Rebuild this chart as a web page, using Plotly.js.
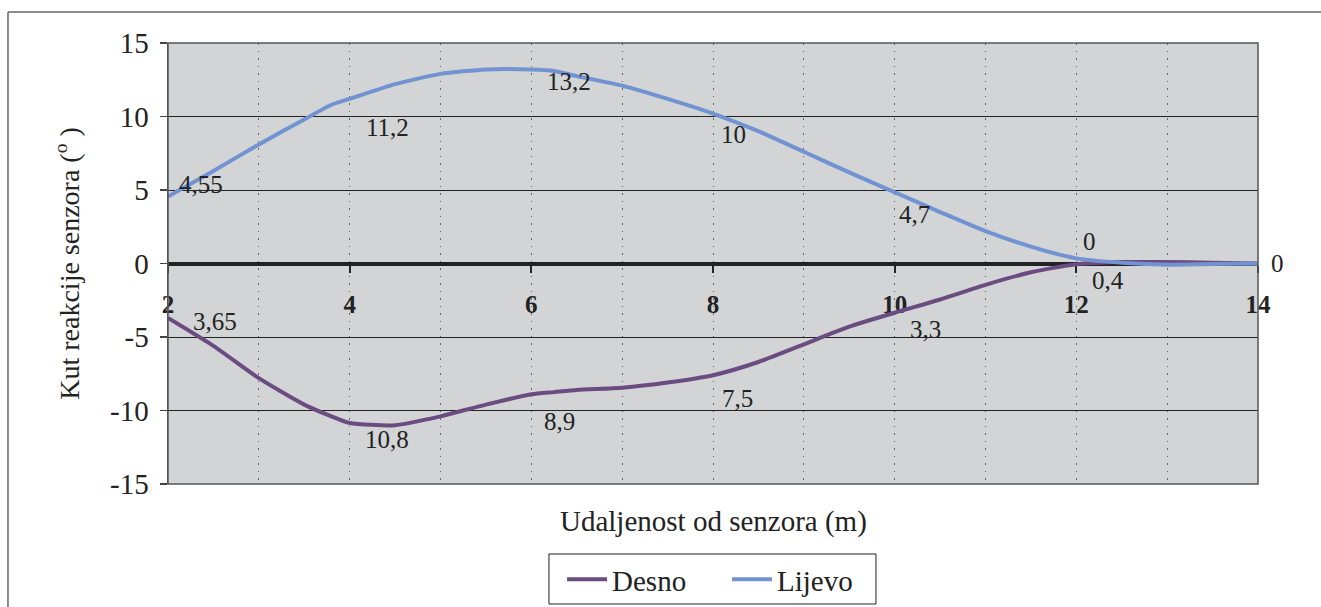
<!DOCTYPE html>
<html>
<head>
<meta charset="utf-8">
<script src="https://cdn.plot.ly/plotly-3.0.1.min.js"></script>
<style>html,body{margin:0;padding:0;background:#fff;}#chart{width:1321px;height:607px;}</style>
</head>
<body>
<div id="chart"></div>
<script>
// Distance from sensor (m)
var distance = [2, 2.5, 3, 3.5, 3.8, 4, 4.5, 5, 5.5, 6, 6.25, 6.5, 7, 7.5, 8, 8.5, 9, 9.5, 10, 10.5, 11, 11.5, 12, 12.5, 13, 13.5, 14];
// Lijevo (left) sensor response angle
var lijevo = [4.55, 6.3, 8.1, 9.8, 10.8, 11.2, 12.2, 12.9, 13.2, 13.2, 13.1, 12.75, 12.1, 11.2, 10.2, 9.0, 7.6, 6.2, 4.85, 3.5, 2.2, 1.15, 0.35, 0.05, -0.08, -0.03, 0];
// Desno (right) sensor response angle
var desno = [-3.7, -5.6, -7.8, -9.6, -10.4, -10.85, -11.0, -10.4, -9.6, -8.9, -8.75, -8.6, -8.45, -8.1, -7.6, -6.7, -5.5, -4.3, -3.35, -2.45, -1.45, -0.6, -0.05, 0.1, 0.1, 0.05, 0];

// Data labels (as printed on the chart)
var labelX = [2, 4, 6, 8, 10, 12, 14];
var lijevoLabelVal = [4.55, 11.2, 13.2, 10, 4.7, 0, 0];
var lijevoLabelTxt = ["4,55", "11,2", "13,2", "10", "4,7", "0", "0"];
var desnoLabelX = [2, 4, 6, 8, 10, 12];
var desnoLabelVal = [-3.65, -10.8, -8.9, -7.5, -3.3, -0.4];
var desnoLabelTxt = ["3,65", "10,8", "8,9", "7,5", "3,3", "0,4"];

var xTickVals = [2, 4, 6, 8, 10, 12, 14];
var yTickVals = [-15, -10, -5, 0, 5, 10, 15];

// label offsets (styling)
var lijevoShift = [[9, 12], [14, -29], [14, -12], [6, -18], [2, -20], [5, 22], [11, 0]];
var desnoShift = [[23, -4], [13, -17], [11, -27], [7, -25], [13, -17], [14, -11]];

var serif = "Liberation Serif";

var traces = [
  {x: distance, y: desno, name: "Desno", mode: "lines", type: "scatter",
   line: {color: "#6b4c80", width: 4, shape: "spline", smoothing: 0.6}},
  {x: distance, y: lijevo, name: "Lijevo", mode: "lines", type: "scatter",
   line: {color: "#7193d2", width: 4, shape: "spline", smoothing: 0.6}}
];

var annotations = [];
labelX.forEach(function (x, i) {
  annotations.push({x: x, y: lijevoLabelVal[i], xref: "x", yref: "y", text: lijevoLabelTxt[i],
    showarrow: false, xanchor: "left", yanchor: "middle",
    xshift: lijevoShift[i][0], yshift: lijevoShift[i][1],
    font: {family: serif, size: 25, color: "#222"}});
});
desnoLabelX.forEach(function (x, i) {
  annotations.push({x: x, y: desnoLabelVal[i], xref: "x", yref: "y", text: desnoLabelTxt[i],
    showarrow: false, xanchor: "left", yanchor: "middle",
    xshift: desnoShift[i][0], yshift: desnoShift[i][1],
    font: {family: serif, size: 25, color: "#222"}});
});
annotations.push({x: 0.5, y: -0.084, xref: "paper", yref: "paper", text: "Udaljenost od senzora (m)",
  showarrow: false, xanchor: "center", yanchor: "middle",
  font: {family: serif, size: 29, color: "#222"}});

var layout = {
  width: 1321, height: 607,
  margin: {l: 168, r: 63, t: 43, b: 123, autoexpand: false},
  paper_bgcolor: "#ffffff",
  plot_bgcolor: "#d3d4d6",
  font: {family: serif, color: "#222"},
  showlegend: true,
  legend: {orientation: "h", x: 0.3615, xanchor: "left", y: -0.1587, yanchor: "top",
    borderwidth: 0, bgcolor: "rgba(0,0,0,0)", entrywidth: 110,
    font: {family: serif, size: 29, color: "#222"}, itemwidth: 40, tracegroupgap: 0},
  xaxis: {
    range: [2, 14], anchor: "free", position: 0.5, automargin: false,
    tickvals: xTickVals, ticktext: xTickVals.map(String),
    showline: true, linecolor: "#222", linewidth: 4,
    ticks: "outside", ticklen: 7, tickwidth: 2, tickcolor: "#222",
    ticklabelstandoff: 10,
    tickfont: {family: serif, size: 25, color: "#222", weight: "bold"},
    showgrid: true, gridcolor: "#666", griddash: "1.5px,6px", gridwidth: 1,
    minor: {dtick: 1, tick0: 2, showgrid: true, gridcolor: "#666", griddash: "1.5px,6px", gridwidth: 1},
    zeroline: false, layer: "below traces", fixedrange: true
  },
  yaxis: {
    range: [-15, 15], domain: [0, 1], automargin: false,
    tickvals: yTickVals, ticktext: yTickVals.map(String),
    showline: true, linecolor: "#555", linewidth: 1.5,
    ticks: "outside", ticklen: 7, tickwidth: 1.5, tickcolor: "#444",
    ticklabelstandoff: 5,
    tickfont: {family: serif, size: 29, color: "#222"},
    showgrid: true, gridcolor: "#222", gridwidth: 1,
    zeroline: false,
    title: {text: "Kut reakcije senzora (<sup>o</sup> )", standoff: 22,
      font: {family: serif, size: 28, color: "#222"}},
    fixedrange: true
  },
  annotations: annotations,
  shapes: [
    {type: "rect", xref: "paper", yref: "paper", x0: 0, x1: 1, y0: 0, y1: 1,
     line: {color: "#555", width: 1.5}, layer: "above"},
    {type: "line", xref: "paper", yref: "paper", x0: -0.1468, x1: 1.06, y0: 1.0703, y1: 1.0703,
     line: {color: "#666", width: 1.5}},
    {type: "line", xref: "paper", yref: "paper", x0: -0.1468, x1: -0.1468, y0: 1.0703, y1: -0.3,
     line: {color: "#666", width: 1.5}},
    // legend frame
    {type: "rect", xref: "paper", yref: "paper", x0: 0.3495, x1: 0.6495, y0: -0.1587, y1: -0.2721,
     line: {color: "#222", width: 1}, fillcolor: "rgba(0,0,0,0)"}
  ]
};

Plotly.newPlot("chart", traces, layout, {displayModeBar: false, staticPlot: true});
</script>
</body>
</html>
